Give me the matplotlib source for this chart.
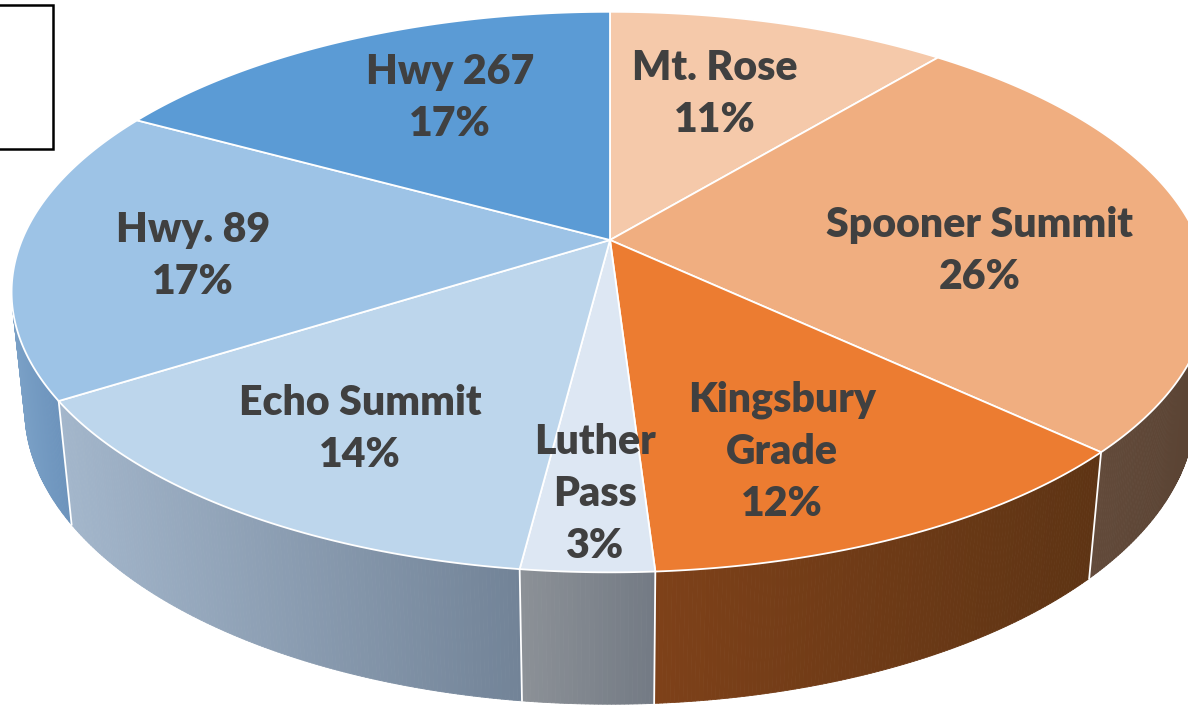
import numpy as np
import matplotlib.pyplot as plt
from matplotlib.patches import Polygon, Rectangle
from matplotlib.collections import PolyCollection
from matplotlib.colors import to_rgb

# data, clockwise from 12 o'clock
passes = ['Mt. Rose', 'Spooner Summit', 'Kingsbury Grade', 'Luther Pass',
          'Echo Summit', 'Hwy. 89', 'Hwy 267']
shares = [11, 26, 12, 3, 14, 17, 17]
label_lines = ['Mt. Rose', 'Spooner Summit', 'Kingsbury\nGrade', 'Luther\nPass',
               'Echo Summit', 'Hwy. 89', 'Hwy 267']
top_colors = ['#F5C9AA', '#F0AE80', '#EC7C31', '#DDE7F3', '#BDD6EC', '#9DC3E6', '#5B9BD5']
# side wall shading (left -> right)
wall_colors = [('#6A4C3A', '#5E4432'), ('#624A3A', '#5A4333'), ('#7E4119', '#5E3414'),
               ('#8C9197', '#737A84'), ('#A3B6CB', '#728397'), ('#7AA0C6', '#6C93BC'),
               ('#5C86B4', '#50789F')]

# label anchors in pixels (block centres)
label_xy = [(715, 94), (980, 251), (782, 452), (595, 494), (360, 429), (193, 256), (450, 98)]

# 3d view setup (pixels)
CX, CY = 610, 240
W = 588
TILT = np.radians(27.4)
DIST = 4.78
DEPTH = 0.225


def project(phi, y=0.0):
    X = np.sin(phi)
    Z = np.cos(phi)
    up = Z * np.sin(TILT) + y * np.cos(TILT)
    d = Z * np.cos(TILT) - y * np.sin(TILT)
    k = W * DIST / (DIST + d)
    return CX + X * k, CY - up * k


fig = plt.figure(figsize=(11.88, 7.07), dpi=100)
ax = fig.add_axes([0, 0, 1, 1])
ax.set_xlim(0, 1188)
ax.set_ylim(707, 0)
ax.axis('off')

frac = np.cumsum([0] + shares) / sum(shares)
edges = frac * 2 * np.pi

# visible part of the outer wall
lim = np.arccos(-1 / (DIST * np.cos(TILT)))
vis_lo, vis_hi = lim, 2 * np.pi - lim

for i in range(len(shares)):
    a = max(edges[i], vis_lo)
    b = min(edges[i + 1], vis_hi)
    if b <= a:
        continue
    ph = np.linspace(a, b, max(int(np.degrees(b - a) * 3), 2))
    tx, ty = project(ph)
    bx, by = project(ph, -DEPTH)
    x0, x1 = tx.min(), tx.max()
    c0, c1 = np.array(to_rgb(wall_colors[i][0])), np.array(to_rgb(wall_colors[i][1]))
    quads, cols = [], []
    for j in range(len(ph) - 1):
        quads.append([(tx[j], ty[j]), (tx[j + 1], ty[j + 1]), (bx[j + 1], by[j + 1]), (bx[j], by[j])])
        t = ((tx[j] + tx[j + 1]) / 2 - x0) / max(x1 - x0, 1)
        cols.append(c0 + (c1 - c0) * t)
    ax.add_collection(PolyCollection(quads, facecolors=cols, edgecolors=cols, linewidths=0.6))

# white seams between wall pieces
for e in edges[1:-1]:
    if vis_lo < e < vis_hi:
        x_t, y_t = project(e)
        x_b, y_b = project(e, -DEPTH)
        ax.plot([x_t, x_b], [y_t, y_b], color='white', lw=1.3)

# top faces
for i in range(len(shares)):
    ph = np.linspace(edges[i], edges[i + 1], 200)
    px, py = project(ph)
    pts = [(CX, CY)] + list(zip(px, py))
    ax.add_patch(Polygon(pts, closed=True, facecolor=top_colors[i],
                         edgecolor='white', lw=1.3, joinstyle='round'))

for txt, (lx, ly), s in zip(label_lines, label_xy, shares):
    ax.text(lx, ly, f'{txt}\n{s}%', ha='center', va='center', fontsize=29.5,
            fontweight='heavy', family='Lato', color='#404040', linespacing=1.45)

# cropped legend frame
ax.add_patch(Rectangle((-10, 5), 63, 144, facecolor='white', edgecolor='black', lw=1.8))

fig.savefig('out.png', dpi=100)
